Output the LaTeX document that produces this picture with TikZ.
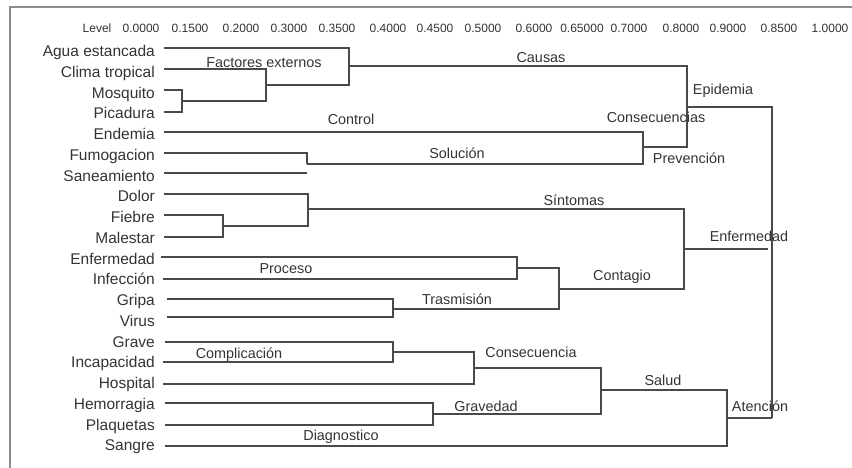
\documentclass[tikz,border=0pt]{standalone}
\usepackage{fontspec}
\setmainfont{Liberation Sans}
\definecolor{txt}{HTML}{333333}
\definecolor{ln}{HTML}{4A4A4A}
\definecolor{frm}{HTML}{8C8C8C}
\begin{document}
\begin{tikzpicture}[x=1pt,y=-1pt,
  leaf/.style={anchor=base east, inner sep=0pt, font=\fontsize{15.5}{16}\selectfont, text=txt},
  lab/.style={anchor=base, inner sep=0pt, font=\fontsize{14.4}{15}\selectfont, text=txt},
  axis/.style={anchor=base, inner sep=0pt, font=\fontsize{12}{13}\selectfont, text=txt},
  link/.style={draw=ln, line width=1.2pt},
  frameline/.style={draw=frm, line width=1.5pt}]
\useasboundingbox (0,0) rectangle (852,468);
% frame
\coordinate (fTR) at (852,7);
\coordinate (fTL) at (10,7);
\coordinate (fBL) at (10,468);
\draw[frameline] (fTR) -- (fTL) -- (fBL);
% axis labels
\foreach \t/\x [count=\i] in {Level/97, 0.0000/141, 0.1500/190, 0.2000/241, 0.3000/289, 0.3500/337, 0.4000/388, 0.4500/435, 0.5000/483, 0.6000/534, 0.65000/582, 0.7000/629, 0.8000/681, 0.9000/728, 0.8500/779, 1.0000/830}
  \node[axis] (ax\i) at (\x,33) {\t};
% leaves
\foreach \t [count=\i] in {Agua estancada, Clima tropical, Mosquito, Picadura, Endemia, Fumogacion, Saneamiento, Dolor, Fiebre, Malestar, Enfermedad, Infección, Gripa, Virus, Grave, Incapacidad, Hospital, Hemorragia, Plaquetas, Sangre}
  \node[leaf] (l\i) at (155,{56.7+20.75*(\i-1)}) {\t};
% leaf line starts
\foreach \y/\x [count=\i] in {48/164, 69/164, 90/164, 112/164, 132/164, 153/164, 173/164, 194/164, 215/164, 237/164, 257/161, 279/163, 299/167, 317/167, 342/165, 362/163, 384/163, 403/165, 425/165, 446/165}
  \coordinate (s\i) at (\x,\y);
% junctions
\coordinate (mp) at (182,101);
\coordinate (fe) at (266,85);
\coordinate (ca) at (349,66);
\coordinate (cs) at (687,107);
\coordinate (so) at (643,147);
\coordinate (fs) at (307,164);
\coordinate (top) at (772,107);
\coordinate (at) at (772,418);
\coordinate (fm) at (223,226);
\coordinate (sy) at (308,209);
\coordinate (en) at (684,249);
\coordinate (enE) at (768,249);
\coordinate (pr) at (517,268);
\coordinate (ct) at (559,289);
\coordinate (gv) at (393,309);
\coordinate (co) at (393,352);
\coordinate (cq) at (474,368);
\coordinate (sa) at (601,390);
\coordinate (gr) at (433,414);
\coordinate (dg) at (727,418);
% Epidemia branch
\draw[link] (s3) -| (mp) |- (s4);
\draw[link] (mp) -| (fe);
\draw[link] (s2) -| (fe);
\draw[link] (fe) -| (ca);
\draw[link] (s1) -| (ca);
\draw[link] (ca) -| (cs) |- (so);
\draw[link] (s5) -| (so);
\draw[link] (fs) -| (so);
\draw[link] (s6) -| (fs);
\draw[link] (s7) -- (s7 -| fs);
\draw[link] (cs) -- (top) -- (at);
% Enfermedad branch
\draw[link] (s9) -| (fm) |- (s10);
\draw[link] (s8) -| (sy) |- (fm);
\draw[link] (sy) -| (en) |- (ct);
\draw[link] (en) -- (enE);
\draw[link] (s11) -| (pr) |- (s12);
\draw[link] (pr) -| (ct);
\draw[link] (s13) -| (gv) |- (s14);
\draw[link] (gv) -| (ct);
% Atencion branch
\draw[link] (s15) -| (co) |- (s16);
\draw[link] (co) -| (cq) |- (s17);
\draw[link] (cq) -| (sa) |- (gr);
\draw[link] (s18) -| (gr) |- (s19);
\draw[link] (sa) -| (dg) |- (s20);
\draw[link] (dg) -- (at);
% cluster labels
\node[lab] (tFE) at (264,68) {Factores externos};
\node[lab] (tCa) at (541,63) {Causas};
\node[lab] (tEp) at (723,95) {Epidemia};
\node[lab] (tCo) at (351,125) {Control};
\node[lab] (tCs) at (656,123) {Consecuencias};
\node[lab] (tSo) at (457,159) {Solución};
\node[lab] (tPv) at (689,164) {Prevención};
\node[lab] (tSi) at (574,205) {Síntomas};
\node[lab] (tEn) at (749,241) {Enfermedad};
\node[lab] (tPr) at (286,273) {Proceso};
\node[lab] (tTr) at (457,304) {Trasmisión};
\node[lab] (tCt) at (622,280) {Contagio};
\node[lab] (tCm) at (239,358) {Complicación};
\node[lab] (tCq) at (531,357) {Consecuencia};
\node[lab] (tSa) at (663,385) {Salud};
\node[lab] (tGr) at (486,411) {Gravedad};
\node[lab] (tAt) at (760,411) {Atención};
\node[lab] (tDg) at (341,440) {Diagnostico};
\end{tikzpicture}
\end{document}
